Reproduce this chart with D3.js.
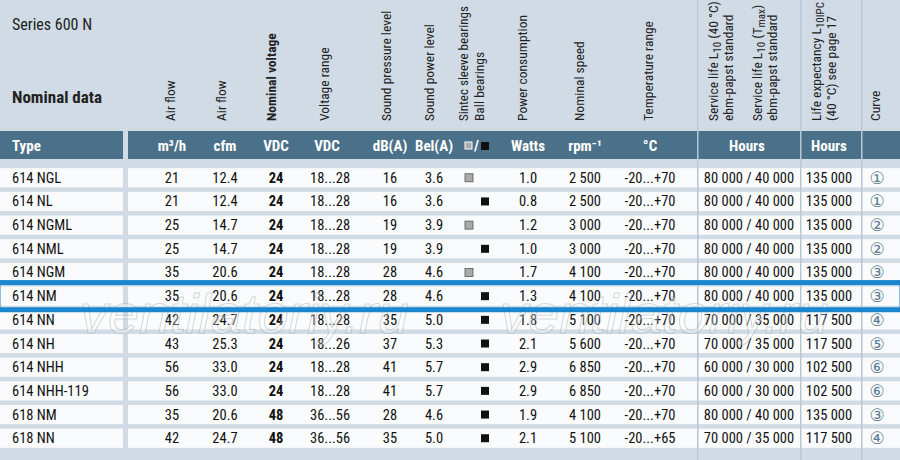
<!DOCTYPE html>
<html><head><meta charset="utf-8">
<script src="https://cdn.jsdelivr.net/npm/d3@7"></script>
<style>body{margin:0;background:#d0dbe5}svg{display:block}</style>
</head><body><svg id="c" width="900" height="460"></svg>
<script>
const types=["614 NGL","614 NL","614 NGML","614 NML","614 NGM","614 NM","614 NN","614 NH","614 NHH","614 NHH-119","618 NM","618 NN"];
const airM3=[21,21,25,25,35,35,42,43,56,56,35,42];
const airCfm=["12.4","12.4","14.7","14.7","20.6","20.6","24.7","25.3","33.0","33.0","20.6","24.7"];
const nomV=[24,24,24,24,24,24,24,24,24,24,48,48];
const vRange=["18...28","18...28","18...28","18...28","18...28","18...28","18...28","18...26","18...28","18...28","36...56","36...56"];
const dBA=[16,16,19,19,28,28,35,37,41,41,28,35];
const belA=["3.6","3.6","3.9","3.9","4.6","4.6","5.0","5.3","5.7","5.7","4.6","5.0"];
const bearing=["S","B","S","B","S","B","B","B","B","B","B","B"];
const watts=["1.0","0.8","1.2","1.0","1.7","1.3","1.8","2.1","2.9","2.9","1.9","2.1"];
const rpm=["2 500","2 500","3 000","3 000","4 100","4 100","5 100","5 600","6 850","6 850","4 100","5 100"];
const temp=["-20...+70","-20...+70","-20...+70","-20...+70","-20...+70","-20...+70","-20...+70","-20...+70","-20...+70","-20...+70","-20...+70","-20...+65"];
const life=["80 000 / 40 000","80 000 / 40 000","80 000 / 40 000","80 000 / 40 000","80 000 / 40 000","80 000 / 40 000","70 000 / 35 000","70 000 / 35 000","60 000 / 30 000","60 000 / 30 000","80 000 / 40 000","70 000 / 35 000"];
const lifeExp=["135 000","135 000","135 000","135 000","135 000","135 000","117 500","117 500","102 500","102 500","135 000","117 500"];
const curve=["①","①","②","②","③","③","④","⑤","⑥","⑥","③","④"];
const highlight=5;

const svg=d3.select("#c");
const F='"Liberation Sans Narrow","Roboto Condensed","Liberation Sans",Arial,sans-serif';
const y=d3.scaleBand().domain(d3.range(types.length)).range([167,449]).paddingInner(0.19).paddingOuter(0.05);
svg.append("rect").attr("width",900).attr("height",460).attr("fill","#d0dbe5");
svg.append("rect").attr("x",0).attr("y",131).attr("width",900).attr("height",28).attr("fill","#4a7189");
svg.selectAll("rect.row").data(types).join("rect").attr("class","row")
 .attr("x",0).attr("width",900).attr("y",(d,i)=>y(i)).attr("height",y.bandwidth()).attr("fill","#fafbfc");
svg.append("rect").attr("x",123).attr("y",131).attr("width",5).attr("height",329).attr("fill","#d0dbe5");
[697,800,861].forEach(x=>svg.append("rect").attr("x",x).attr("y",0).attr("width",1.5).attr("height",460).attr("fill","#b9c7d3"));

svg.append("text").attr("x",12).attr("y",30).attr("font-family",F).attr("font-size",16).attr("fill","#222").text("Series 600 N");
svg.append("text").attr("x",12).attr("y",103).attr("font-family",F).attr("font-size",17).attr("font-weight","bold").attr("fill","#222").text("Nominal data");
const rot=[[[["Air flow"]],175],[[["Air flow"]],226],[[["Nominal voltage"]],276,true],[[["Voltage range"]],329],
 [[["Sound pressure level"]],391],[[["Sound power level"]],434],[[["Sintec sleeve bearings"]],468,false,13],[[["Ball bearings"]],484],
 [[["Power consumption"]],527],[[["Nominal speed"]],584],[[["Temperature range"]],653],
 [[["Service life L"],["10",1],["  (40 °C)"]],718],[[["ebm-papst standard"]],733],
 [[["Service life L"],["10",1],[" (T"],["max",1],[")"]],762],[[["ebm-papst standard"]],777],
 [[["Life expectancy L"],["10IPC",1]],821],[[["(40 °C)  see page 17"]],836],[[["Curve"]],880]];
rot.forEach(([parts,x,b,fs])=>{
 const t=svg.append("text").attr("transform",`translate(${x},121) rotate(-90)`)
 .attr("font-family",F).attr("font-size",fs||13.5).attr("font-weight",b?"bold":"normal").attr("fill","#222");
 parts.forEach(([s,sub])=>{const ts=t.append("tspan").text(s);if(sub)ts.attr("font-size",11).attr("dy",3);else if(t.selectAll("tspan").size()>1)ts.attr("dy",-3);});
});
const units=[["Type",12,"start"],["m³/h",172,"middle"],["cfm",225,"middle"],["VDC",276,"middle"],["VDC",327,"middle"],["dB(A)",390,"middle"],["Bel(A)",434,"middle"],["Watts",528,"middle"],["rpm⁻¹",585,"middle"],["°C",650,"middle"],["Hours",747,"middle"],["Hours",829,"middle"]];
units.forEach(([t,x,a])=>svg.append("text").attr("x",x).attr("y",151).attr("text-anchor",a).attr("font-family",F)
 .attr("font-size",15).attr("font-weight","bold").attr("fill","#fff").text(t));
svg.append("rect").attr("x",465).attr("y",142).attr("width",7).attr("height",7).attr("fill","#aaa").attr("stroke","#fff").attr("stroke-width",1);
svg.append("text").attr("x",474).attr("y",151).attr("font-family",F).attr("font-size",15).attr("font-weight","bold").attr("fill","#fff").text("/");
svg.append("rect").attr("x",481).attr("y",142).attr("width",8).attr("height",8).attr("fill","#111");

const cols=[[types,12,"start"],[airM3,172,"middle"],[airCfm,225,"middle"],[nomV,276,"middle",true],[vRange,310,"start"],[dBA,390,"middle"],[belA,434,"middle"],[watts,528,"middle"],[rpm,585,"middle"],[temp,650,"middle"],[life,749,"middle"],[lifeExp,829,"middle"]];
cols.forEach(([arr,x,a,b])=>{
 svg.append("g").selectAll("text").data(arr).join("text").attr("x",x).attr("y",(d,i)=>y(i)+y.bandwidth()/2+5)
  .attr("text-anchor",a).attr("font-family",F).attr("font-size",14.5).attr("font-weight",b?"bold":"normal").attr("fill","#111").text(d=>d);
});
svg.append("g").selectAll("rect").data(bearing).join("rect")
 .attr("x",d=>d==="S"?465:481).attr("y",(d,i)=>y(i)+y.bandwidth()/2-4).attr("width",8).attr("height",8)
 .attr("fill",d=>d==="S"?"#aaa":"#111").attr("stroke",d=>d==="S"?"#555":"none").attr("stroke-width",0.8);
svg.append("g").selectAll("text").data(curve).join("text").attr("x",877).attr("y",(d,i)=>y(i)+y.bandwidth()/2+6)
 .attr("text-anchor","middle").attr("font-family",'"DejaVu Sans",sans-serif').attr("font-size",17).attr("fill","#5f7d93").text(d=>d);

[[80,"ventilatoriy.ru"],[500,"ventilatoriy.ru"]].forEach(([x,t])=>svg.append("text").attr("x",x).attr("y",333)
 .attr("font-family",'"Liberation Sans",Arial').attr("font-size",56).attr("font-style","italic").attr("fill","rgba(255,255,255,0.3)")
 .attr("stroke","rgba(130,130,130,0.3)").attr("stroke-width",1).text(t));
svg.append("rect").attr("x",-2).attr("y",y(highlight)-4).attr("width",904).attr("height",y.bandwidth()+8)
 .attr("fill","none").attr("stroke","#1a86d0").attr("stroke-width",5);
</script></body></html>
